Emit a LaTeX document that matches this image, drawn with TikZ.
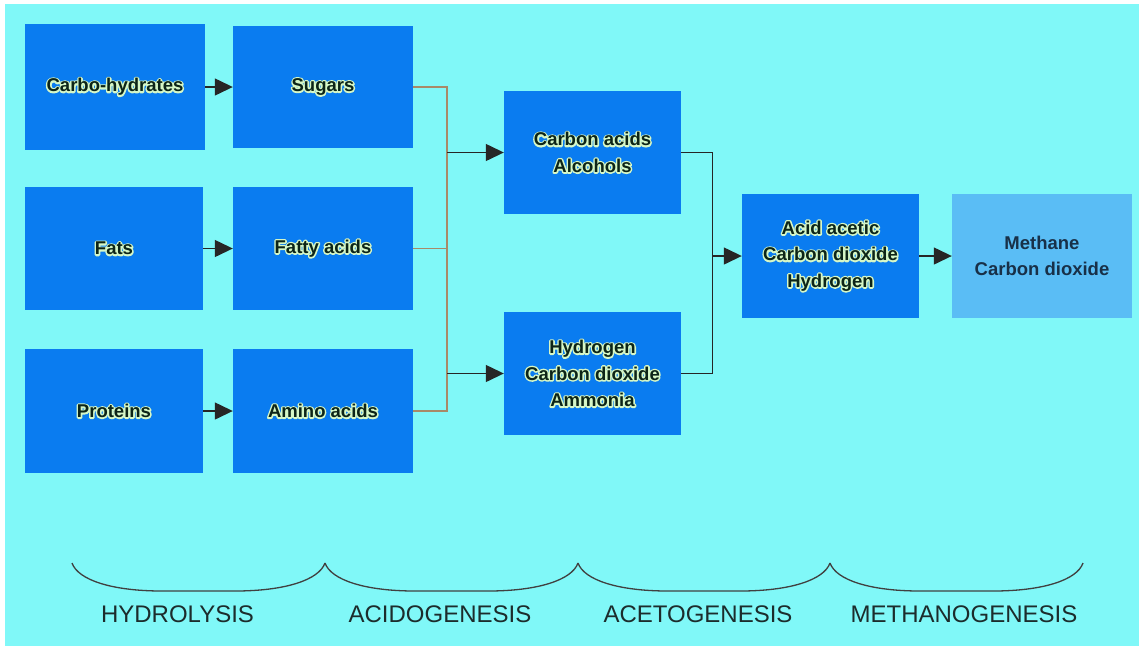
\documentclass[tikz,border=0pt]{standalone}
\usepackage{fontspec}
\setmainfont{Liberation Sans}
\usetikzlibrary{arrows.meta}

\definecolor{bgcyan}{HTML}{80F8F8}
\definecolor{boxblue}{HTML}{0A7CF0}
\definecolor{paleblue}{HTML}{5ABDF5}
\definecolor{inkdark}{HTML}{0C2418}
\definecolor{busbrown}{HTML}{A88A68}
\definecolor{labelink}{HTML}{1C2C2C}
\definecolor{navyink}{HTML}{183048}

% light outline behind a line of text: a stroked copy (render mode 1) under the filled one
\newcommand{\halo}[1]{\leavevmode\rlap{\special{pdf:literal 1 Tr 3 w 1 j 0.84 0.97 0.78 RG}#1\special{pdf:literal 0 Tr 0.4 w 0 j 0 0 0 RG}}#1}

\tikzset{
  box/.style={fill=boxblue, draw=none, inner sep=0pt,
    minimum width=180pt, minimum height=124pt, align=center,
    text=inkdark, font=\fontsize{18.5}{26.5}\selectfont\bfseries},
  endbox/.style={box, fill=paleblue, text=navyink},
  arr/.style={draw=black!85, line width=1.3pt,
    -{Triangle[length=18pt,width=17pt]}},
  bus/.style={draw=busbrown, line width=1.6pt},
  link/.style={draw=black!85, line width=1.2pt},
  stage/.style={anchor=base, text=labelink,
    font=\fontsize{24}{28}\selectfont},
  brace/.style={draw=black!75, line width=1.3pt}
}

\begin{document}
\begin{tikzpicture}[x=1pt, y=-1pt]
  \useasboundingbox (0,0) rectangle (1142,649);
  \fill[white] (0,0) rectangle (1142,649);
  \fill[bgcyan] (5,4) rectangle (1139,646);

  % hydrolysis inputs and products
  \node[box, minimum width=180pt, minimum height=126pt] (carb) at (115,87) {\halo{Carbo-hydrates}};
  \node[box, minimum height=122pt] (sugar) at (323,87) {\halo{Sugars}};
  \node[box, minimum width=178pt, minimum height=123pt] (fats) at (114,248.5) {\halo{Fats}};
  \node[box, minimum height=123pt] (fatty) at (323,248.5) {\halo{Fatty acids}};
  \node[box, minimum width=178pt] (prot) at (114,411) {\halo{Proteins}};
  \node[box] (amino) at (323,411) {\halo{Amino acids}};

  % acidogenesis products
  \node[box, minimum width=177pt, minimum height=123pt] (cacid) at (592.5,152.5)
    {\halo{Carbon acids}\\\halo{Alcohols}};
  \node[box, minimum width=177pt, minimum height=123pt] (hydro) at (592.5,373.5)
    {\halo{Hydrogen}\\\halo{Carbon dioxide}\\\halo{Ammonia}};

  % acetogenesis and methanogenesis
  \node[box, minimum width=177pt] (acet) at (830.5,256)
    {\halo{Acid acetic}\\\halo{Carbon dioxide}\\\halo{Hydrogen}};
  \node[endbox] (meth) at (1042,256) {Methane\\Carbon dioxide};

  % hydrolysis arrows
  \draw[arr] (carb.east) -- (sugar.west);
  \draw[arr] (fats.east) -- (fatty.east -| sugar.west);
  \draw[arr] (prot.east) -- (amino.west);

  % collecting bus after hydrolysis
  \draw[bus] (sugar.east) -- ++(34,0) |- (amino.east);
  \draw[bus] (fatty.east) -- ++(34,0);
  \coordinate (jA) at (447,152.5);
  \coordinate (jB) at (447,373.5);
  \draw[arr] (jA) -- (cacid.west);
  \draw[arr] (jB) -- (hydro.west);

  % collecting bus after acidogenesis
  \draw[link] (cacid.east) -- ++(31,0) |- (hydro.east);
  \coordinate (jC) at (712,256);
  \draw[arr] (jC) -- (acet.west);
  \draw[arr] (acet.east) -- (meth.west);

  % stage braces
  \foreach \a/\b in {72/325, 325/578, 578/830, 830/1083}{
    \draw[brace] (\a,563) .. controls (\a+6,580) and (\a+40,591) .. (\a+90,591)
      -- (\b-90,591) .. controls (\b-40,591) and (\b-6,580) .. (\b,563);
  }

  % stage names
  \node[stage] (s1) at (177.5,622) {HYDROLYSIS};
  \node[stage] (s2) at (440,622) {ACIDOGENESIS};
  \node[stage] (s3) at (698,622) {ACETOGENESIS};
  \node[stage] (s4) at (964,622) {METHANOGENESIS};
\end{tikzpicture}
\end{document}
